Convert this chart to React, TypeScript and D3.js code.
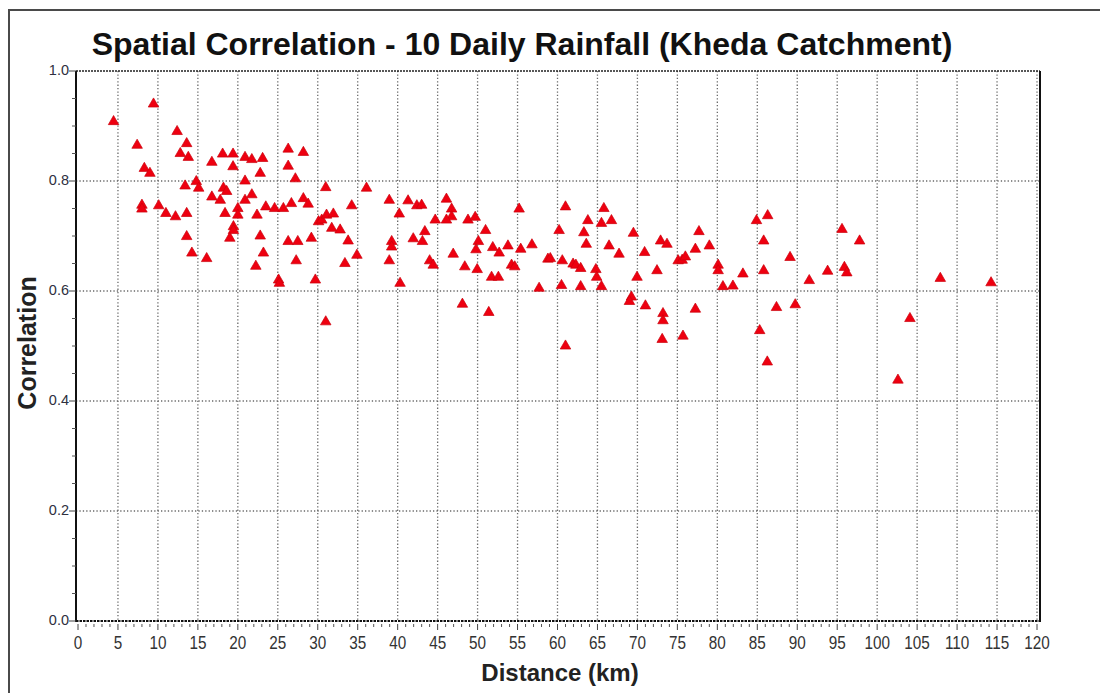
import React from "react";
import * as d3 from "d3";

const title = "Spatial Correlation - 10 Daily Rainfall (Kheda Catchment)";
const xLabel = "Distance (km)";
const yLabel = "Correlation";
const xTickValues = [0, 5, 10, 15, 20, 25, 30, 35, 40, 45, 50, 55, 60, 65, 70, 75, 80, 85, 90, 95, 100, 105, 110, 115, 120];
const yTickValues = [0, 0.2, 0.4, 0.6, 0.8, 1.0];

const distanceKm = [
  4.45, 9.45, 12.4, 7.4, 13.6, 12.8, 13.8, 8.3, 9.0, 16.75, 18.1, 19.4, 19.4, 20.9, 21.75, 23.1, 22.8, 26.3, 28.2, 26.3,
  27.2, 20.9, 14.8, 15.1, 13.4, 18.2, 18.6, 16.75, 17.8, 21.75, 20.9, 8.0, 8.0, 10.1, 11.0, 12.2, 13.6, 18.4, 20.0, 20.0,
  19.45, 19.45, 19.0, 22.4, 23.5, 24.6, 25.7, 26.7, 28.2, 28.8, 13.6, 14.25, 16.1, 22.8, 23.2, 22.25, 26.3, 27.5, 29.2, 27.3,
  25.1, 25.2, 29.7, 30.1,
  31.0, 36.1, 34.25, 38.95, 41.3, 42.4, 43.0, 46.1, 46.75, 46.75, 46.1, 44.7, 40.2, 30.5, 31.1, 31.95, 31.75, 32.8, 33.8, 34.9,
  33.4, 31.0, 39.25, 39.25, 38.95, 41.95, 43.4, 43.1, 44.0, 44.45, 40.3, 48.8, 49.7, 51.0, 50.1, 49.8, 46.95, 48.4, 49.95, 51.9,
  52.7, 53.8, 55.2, 55.4, 56.8, 54.25, 54.65, 51.75, 52.6, 58.8, 57.7, 48.1, 51.4,
  61.0, 60.2, 63.8, 63.3, 63.6, 65.8, 66.75, 65.5, 66.45, 67.7, 69.5, 70.9, 59.1, 60.6, 61.95, 62.3, 62.9, 64.8, 64.9, 60.5,
  62.9, 65.5, 69.95, 69.25, 69.0, 72.45, 72.9, 73.7, 71.0, 73.2, 73.2, 73.1, 61.0, 75.1, 75.6, 76.0, 77.25, 77.7, 79.0, 80.1,
  80.1, 80.7, 81.95, 83.2, 77.25, 75.7, 84.9, 86.3, 85.8, 85.8, 87.4, 85.3, 86.25,
  89.1, 91.5, 93.8, 95.6, 95.9, 96.2, 97.8, 89.75, 107.9, 114.25, 104.1, 102.6,
];

const correlation = [
  0.908, 0.94, 0.89, 0.865, 0.868, 0.85, 0.843, 0.823, 0.814, 0.834, 0.849, 0.849, 0.826, 0.843, 0.839, 0.841, 0.814, 0.858, 0.852, 0.827,
  0.804, 0.8, 0.799, 0.787, 0.791, 0.787, 0.781, 0.771, 0.765, 0.775, 0.765, 0.756, 0.749, 0.755, 0.741, 0.735, 0.741, 0.741, 0.75, 0.738,
  0.717, 0.71, 0.696, 0.738, 0.753, 0.75, 0.75, 0.759, 0.768, 0.758, 0.699, 0.669, 0.659, 0.7, 0.669, 0.645, 0.69, 0.69, 0.696, 0.655,
  0.62, 0.614, 0.62, 0.726,
  0.788, 0.787, 0.755, 0.765, 0.764, 0.755, 0.756, 0.767, 0.749, 0.735, 0.729, 0.729, 0.74, 0.729, 0.738, 0.74, 0.714, 0.711, 0.691, 0.665,
  0.65, 0.544, 0.69, 0.68, 0.655, 0.695, 0.708, 0.69, 0.655, 0.647, 0.614, 0.729, 0.734, 0.71, 0.69, 0.675, 0.667, 0.644, 0.639, 0.679,
  0.669, 0.682, 0.749, 0.676, 0.684, 0.647, 0.644, 0.625, 0.625, 0.658, 0.605, 0.576, 0.561,
  0.753, 0.71, 0.728, 0.706, 0.685, 0.75, 0.728, 0.723, 0.682, 0.667, 0.705, 0.67, 0.659, 0.655, 0.649, 0.647, 0.641, 0.639, 0.625, 0.61,
  0.608, 0.608, 0.625, 0.589, 0.581, 0.637, 0.691, 0.685, 0.573, 0.559, 0.546, 0.512, 0.5, 0.655, 0.656, 0.662, 0.676, 0.708, 0.682, 0.647,
  0.637, 0.608, 0.609, 0.631, 0.567, 0.518, 0.728, 0.737, 0.691, 0.637, 0.57, 0.528, 0.471,
  0.661, 0.619, 0.636, 0.712, 0.643, 0.633, 0.691, 0.575, 0.623, 0.615, 0.55, 0.438,
];

const FONT = "'Liberation Sans', Arial, Helvetica, sans-serif";

export default function App() {
  const W = 1100;
  const H = 693;
  const plotLeft = 76;
  const plotRight = 1040;
  const x = d3.scaleLinear().domain([0, 120]).range([78, 1037]);
  const y = d3.scaleLinear().domain([0, 1]).range([621, 71]);
  const tri = d3.symbol().type(d3.symbolTriangle).size(48)() || "";
  const minorX = d3.range(0, 121, 1).filter((v) => v % 5 !== 0);
  const minorY = d3.range(0, 1.0001, 0.05).filter((v) => Math.abs(Math.round(v * 5) - v * 5) > 1e-6);

  return (
    <svg width={W} height={H} style={{ position: "absolute", left: 0, top: 0, background: "#fff" }}>
      <rect x={0} y={0} width={W} height={H} fill="#fff" />
      {/* outer frame */}
      <rect x={9} y={10} width={1200} height={800} fill="none" stroke="#4a4a4a" strokeWidth={2} />

      {/* vertical grid */}
      {xTickValues.filter((v) => v > 0).map((v) => (
        <line key={"gx" + v} x1={x(v)} x2={x(v)} y1={y(1)} y2={y(0)} stroke="#6a6a6a" strokeWidth={1.3} strokeDasharray="1.3 2.1" />
      ))}
      {/* horizontal grid */}
      {yTickValues.filter((v) => v > 0 && v < 1).map((v) => (
        <line key={"gy" + v} x1={plotLeft} x2={plotRight} y1={y(v)} y2={y(v)} stroke="#6a6a6a" strokeWidth={1.3} strokeDasharray="1.3 2.1" />
      ))}

      {/* frame lines */}
      <line x1={plotLeft} x2={plotRight} y1={y(1)} y2={y(1)} stroke="#222" strokeWidth={1.6} strokeDasharray="2 1" />
      <line x1={plotLeft} x2={plotRight} y1={y(0)} y2={y(0)} stroke="#111" strokeWidth={1.8} strokeDasharray="2.5 1" />
      <line x1={plotLeft} x2={plotLeft} y1={y(1)} y2={y(0) + 1} stroke="#111" strokeWidth={2} />
      <line x1={plotRight} x2={plotRight} y1={y(1)} y2={y(0) + 1} stroke="#111" strokeWidth={2} />

      {/* x ticks */}
      {minorX.map((v) => (
        <line key={"mx" + v} x1={x(v)} x2={x(v)} y1={y(0) + 3} y2={y(0) + 6} stroke="#555" strokeWidth={1} />
      ))}
      {xTickValues.map((v) => (
        <line key={"tx" + v} x1={x(v)} x2={x(v)} y1={y(0) + 3} y2={y(0) + 9} stroke="#444" strokeWidth={1} />
      ))}
      {xTickValues.map((v) => (
        <text
          key={"lx" + v}
          transform={`translate(${x(v)},${y(0) + 28}) scale(0.9,1.05)`}
          textAnchor="middle"
          fontFamily={FONT}
          fontSize={17}
          fill="#333"
        >
          {v}
        </text>
      ))}

      {/* y ticks */}
      {minorY.map((v) => (
        <line key={"my" + v} x1={plotLeft - 4} x2={plotLeft} y1={y(v)} y2={y(v)} stroke="#555" strokeWidth={1} />
      ))}
      {yTickValues.map((v) => (
        <line key={"ty" + v} x1={plotLeft - 7} x2={plotLeft} y1={y(v)} y2={y(v)} stroke="#444" strokeWidth={1} />
      ))}
      {yTickValues.map((v) => (
        <text key={"ly" + v} x={plotLeft - 7} y={y(v) + 4} textAnchor="end" fontFamily={FONT} fontSize={14.5} fill="#2e3040">
          {v.toFixed(1)}
        </text>
      ))}

      {/* points */}
      {distanceKm.map((d, i) => (
        <path
          key={"p" + i}
          d={tri}
          transform={`translate(${x(d)},${y(correlation[i])})`}
          fill="#ee0010"
          stroke="#cc000c"
          strokeWidth={0.7}
        />
      ))}

      {/* titles */}
      <text x={522} y={55} textAnchor="middle" fontFamily={FONT} fontWeight="bold" fontSize={32} fill="#111">
        {title}
      </text>
      <text x={560} y={681} textAnchor="middle" fontFamily={FONT} fontWeight="bold" fontSize={24} fill="#222">
        {xLabel}
      </text>
      <text
        transform={`translate(36,343) rotate(-90)`}
        textAnchor="middle"
        fontFamily={FONT}
        fontWeight="bold"
        fontSize={25}
        fill="#222"
      >
        {yLabel}
      </text>
    </svg>
  );
}
